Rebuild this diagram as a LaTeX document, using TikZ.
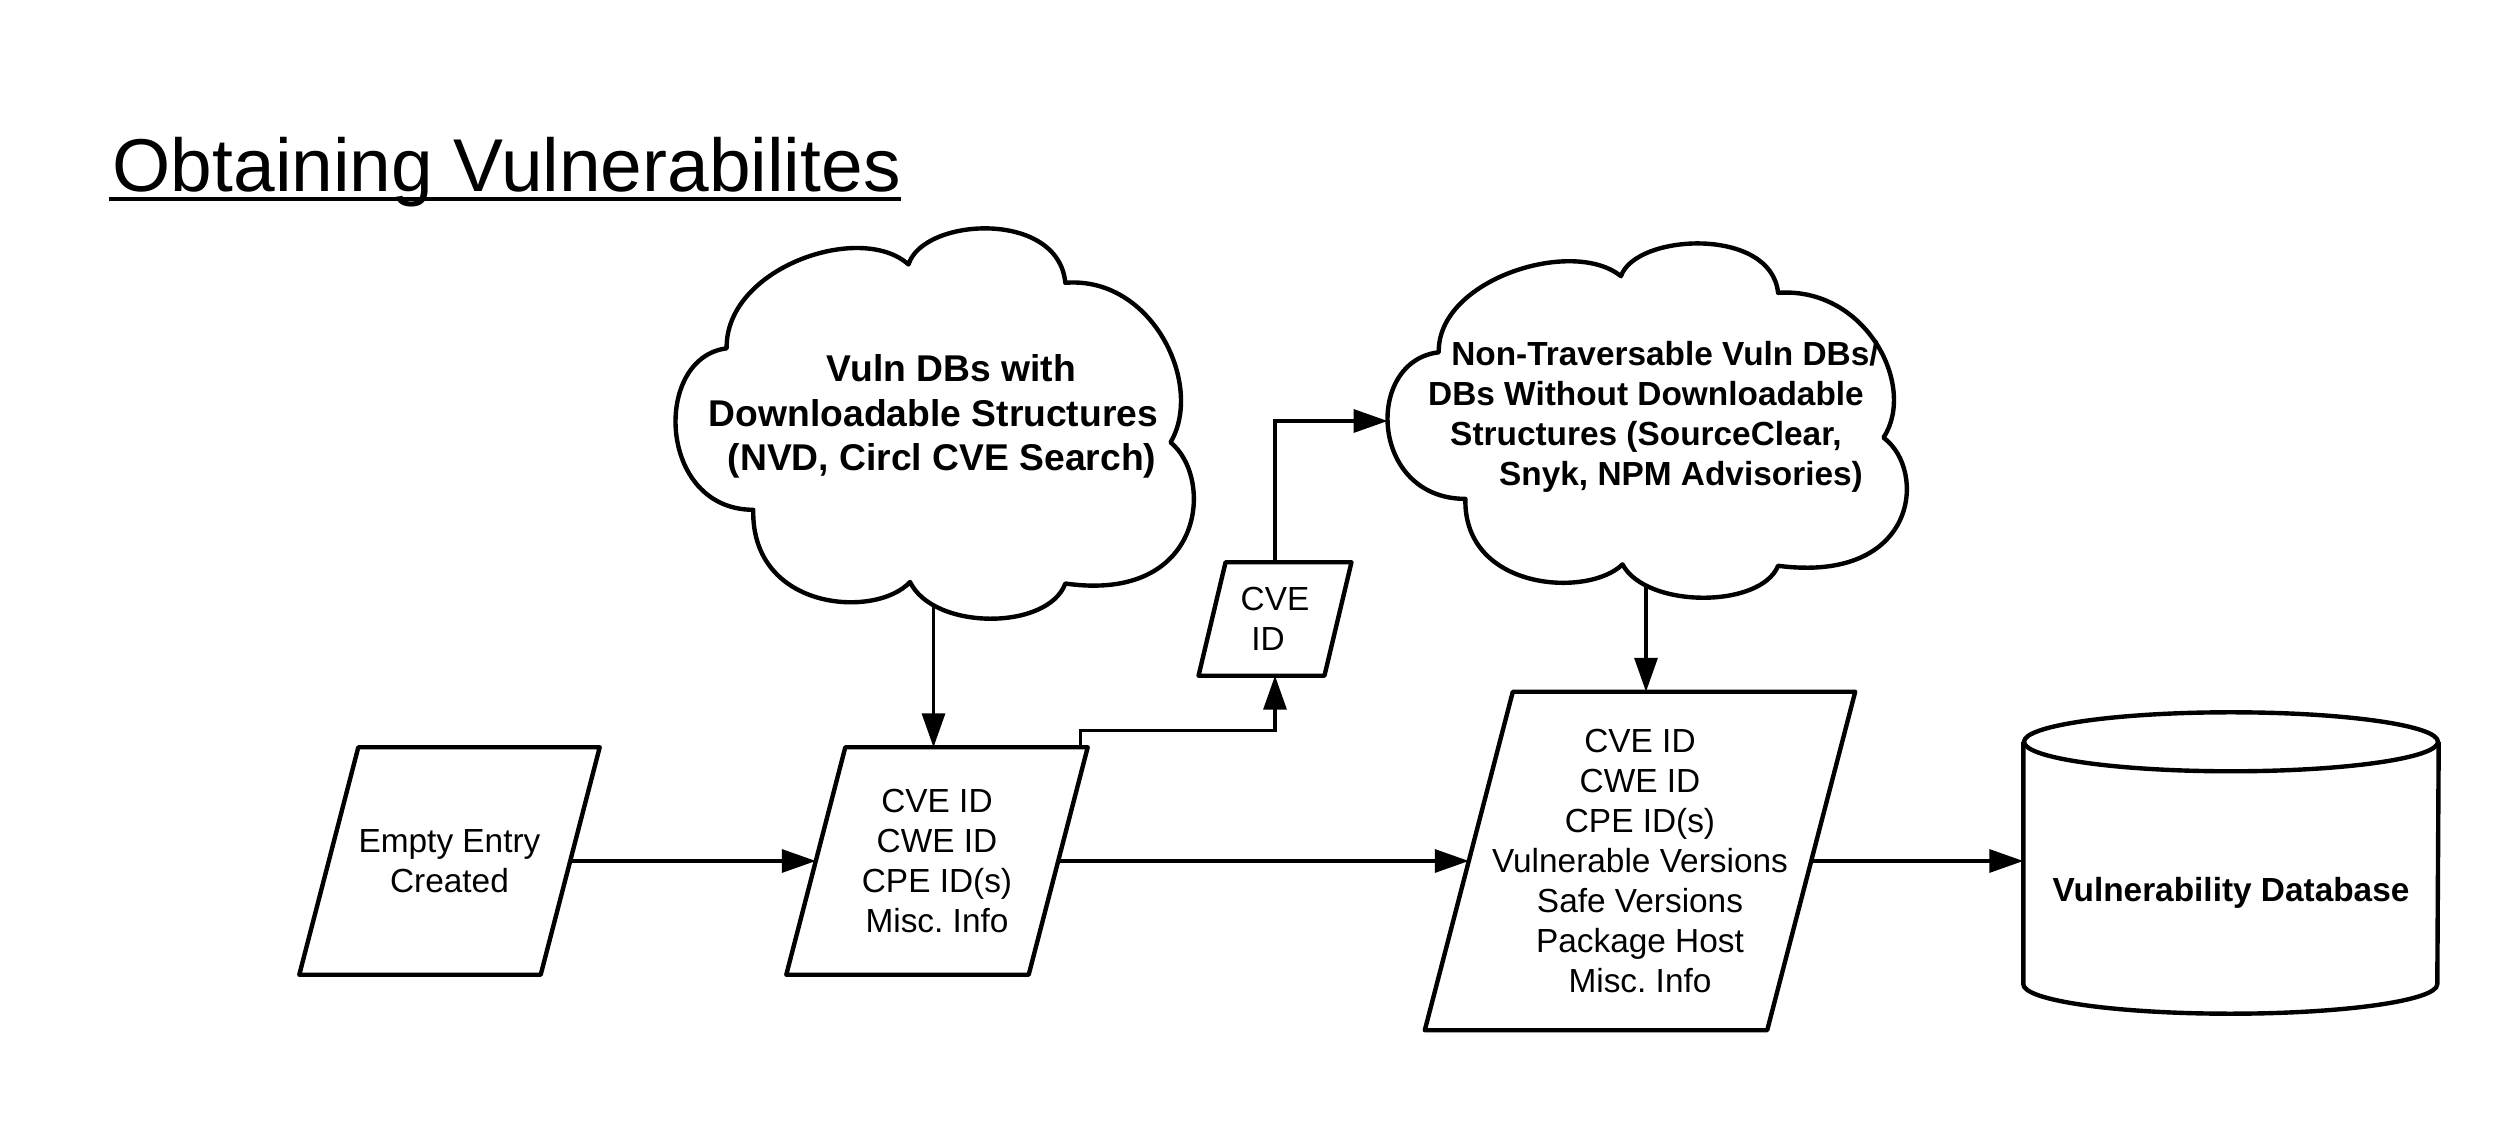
\documentclass[tikz,border=0pt]{standalone}
\usepackage{fontspec}
\setmainfont{Liberation Sans}
\usepackage{tikz}
\usetikzlibrary{arrows.meta, positioning, calc}

% cloud outline round a named node: node, width, height, shift of the outline centre
\newcommand{\cloudline}[4]{%
  \draw [shapeline, shift={($(#1.center)+(0,#4)$)}, x=#2, y=-#3, shift={(-0.5,-0.5)}]
    (0.103,0.306) .. controls (0.10,0.10) and (0.36,-0.02) .. (0.452,0.091)
                  .. controls (0.48,-0.03) and (0.74,-0.05) .. (0.753,0.138)
                  .. controls (0.92,0.12) and (1.02,0.40) .. (0.955,0.547)
                  .. controls (1.04,0.64) and (1.02,0.96) .. (0.753,0.909)
                  .. controls (0.72,1.03) and (0.50,1.03) .. (0.455,0.905)
                  .. controls (0.39,1.00) and (0.15,0.98) .. (0.154,0.720)
                  .. controls (-0.03,0.72) and (-0.04,0.33) .. (0.103,0.306) -- cycle
    (0.5,0.965) coordinate (#1-s)
    (0.005,0.5) coordinate (#1-w);
}
% parallelogram round a named node: node, half the slant
\newcommand{\paraline}[2]{%
  \draw [shapeline] ([xshift=#2]#1.north west) -- ([xshift=#2]#1.north east)
    -- ([xshift=-#2]#1.south east) -- ([xshift=-#2]#1.south west) -- cycle;
}

\begin{document}
\begin{tikzpicture}[
        shapeline/.style={draw=black, line width=1.25pt, line join=round},
        para/.style={rectangle, inner sep=0pt, align=center,
                     font=\fontsize{9.5}{11.4}\selectfont},
        cloudtext/.style={align=center, inner sep=0pt, font=\bfseries\fontsize{9.5}{11.4}\selectfont},
        dbbox/.style={minimum width=4.14cm, minimum height=2.41cm, inner sep=0pt,
                      font=\bfseries\fontsize{9.5}{11.4}\selectfont},
        arrow/.style={draw, line width=0.95pt, -{Triangle[length=3.4mm, width=2.3mm]}}
    ]
        \useasboundingbox (0,0) rectangle (25.13,11.31);
        \node [anchor=base west, inner sep=0pt, font=\fontsize{21.3}{25}\selectfont] (title) at (1.12,9.39) {Obtaining Vulnerabilites};
        \draw [line width=1.1pt] ([shift={(-0.03,-0.07)}]title.base west) -- ([yshift=-0.07cm]title.base east);

        \node [para, minimum width=2.40cm, minimum height=2.26cm] (empty)  at (4.495,2.70) {Empty Entry\\Created};
        \node [para, minimum width=2.41cm, minimum height=2.26cm] (entryA) at (9.37,2.70) {CVE ID\\CWE ID\\CPE ID(s)\\Misc.\ Info};
        \node [para, minimum width=1.245cm, minimum height=1.12cm] (cveid) at (12.75,5.12) {CVE\\ID\hspace*{0.14cm}};
        \node [para, minimum width=3.41cm, minimum height=3.37cm] (entryB) at (16.40,2.70) {CVE ID\\CWE ID\\CPE ID(s)\\Vulnerable Versions\\Safe Versions\\Package Host\\Misc.\ Info};
        \node [dbbox] (vdb) at (22.31,2.385) {Vulnerability Database};
        \node [cloudtext, font=\bfseries\fontsize{10.6}{12.7}\selectfont] (vulnA) at (9.335,7.145)
            {\hspace*{0.36cm}Vuln DBs with\\Downloadable Structures\hspace*{0.2cm}\\\hspace*{0.17cm}(NVD, Circl CVE Search)};
        \node [cloudtext] (vulnB) at (16.46,7.14)
            {\hspace*{0.38cm}Non-Traversable Vuln DBs/\\DBs Without Downloadable\\Structures (SourceClear,\hspace*{0.08cm}\\\hspace*{0.70cm}Snyk, NPM Advisories)};

        \paraline{empty}{0.295cm}
        \paraline{entryA}{0.295cm}
        \paraline{cveid}{0.135cm}
        \paraline{entryB}{0.44cm}
        \cloudline{vulnA}{5.21cm}{3.90cm}{-0.075cm}
        \cloudline{vulnB}{5.22cm}{3.54cm}{-0.04cm}

        % database cylinder
        \draw [shapeline] ([yshift=2.95mm]vdb.north west) -- ([yshift=2.95mm]vdb.south west)
            arc [start angle=180, end angle=360, x radius=2.07cm, y radius=2.95mm] -- ([yshift=2.95mm]vdb.north east);
        \draw [shapeline] ([yshift=2.95mm]vdb.north) ellipse [x radius=2.07cm, y radius=2.95mm];

        \path [arrow] (empty.east)  -- (entryA.west);
        \path [arrow] (entryA.east) -- (entryB.west);
        \path [arrow] (entryB.east) -- (entryB.east -| vdb.west);
        \path [arrow] (vulnA-s) -- (vulnA-s |- entryA.north);
        \path [arrow] (vulnB-s) -- (vulnB-s |- entryB.north);
        \path [arrow] ([xshift=0.225cm]entryA.north east) -- ++(0,0.17) -| (cveid.south);
        \path [arrow] (cveid.north) |- (vulnB-w);
\end{tikzpicture}
\end{document}
